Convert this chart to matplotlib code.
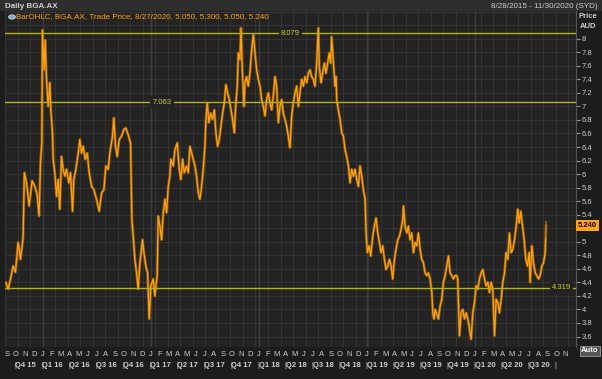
import matplotlib
matplotlib.use("Agg")
import matplotlib.pyplot as plt
import numpy as np

plt.rcParams['font.family'] = ['Liberation Sans', 'DejaVu Sans']

# months since 1 Sep 2015 (daily BGA.AX trade price, sampled roughly weekly)
months = [-0.11, 0.15, 0.41, 0.70, 0.96, 1.26, 1.52, 1.81, 1.95, 2.19, 2.48, 2.81, 3.11, 3.37, 3.59,
          3.74, 3.89, 3.96, 4.15, 4.26, 4.41, 4.59, 4.78, 4.89, 5.07, 5.15, 5.33, 5.52, 5.70, 5.89,
          6.07, 6.26, 6.44, 6.63, 6.89, 7.07, 7.30, 7.44, 7.67, 7.93, 8.11, 8.30, 8.48, 8.70, 8.93,
          9.15, 9.41, 9.67, 9.96, 10.26, 10.52, 10.78, 11.00, 11.26, 11.44, 11.74, 11.89, 12.07, 12.26,
          12.48, 12.74, 13.00, 13.22, 13.48, 13.74, 13.89, 14.04, 14.22, 14.41, 14.59, 14.78, 15.07,
          15.22, 15.44, 15.63, 15.81, 16.00, 16.26, 16.44, 16.70, 16.74, 16.81, 17.00, 17.19, 17.37,
          17.56, 17.74, 17.93, 18.11, 18.22, 18.48, 18.67, 18.93, 19.15, 19.33, 19.52, 19.70, 19.96,
          20.15, 20.33, 20.52, 20.70, 20.89, 21.07, 21.26, 21.44, 21.63, 21.81, 22.00, 22.11, 22.26,
          22.44, 22.63, 22.85, 23.04, 23.22, 23.41, 23.59, 23.78, 23.96, 24.15, 24.33, 24.52, 24.70,
          24.89, 25.07, 25.26, 25.41, 25.59, 25.70, 25.89, 26.00, 26.15, 26.33, 26.44, 26.63, 26.81,
          27.00, 27.19, 27.37, 27.56, 27.74, 27.93, 28.11, 28.30, 28.48, 28.67, 28.85, 29.04, 29.22,
          29.41, 29.59, 29.78, 29.96, 30.15, 30.33, 30.52, 30.70, 30.89, 31.07, 31.26, 31.44, 31.63,
          31.81, 32.00, 32.19, 32.37, 32.56, 32.74, 32.93, 33.11, 33.30, 33.48, 33.67, 33.85, 34.04,
          34.22, 34.41, 34.59, 34.70, 34.89, 35.07, 35.26, 35.44, 35.63, 35.81, 35.96, 36.07, 36.19,
          36.33, 36.44, 36.56, 36.63, 36.81, 37.00, 37.19, 37.37, 37.56, 37.74, 37.93, 38.11, 38.30,
          38.48, 38.67, 38.85, 39.04, 39.22, 39.41, 39.59, 39.78, 39.89, 40.04, 40.22, 40.41, 40.63,
          40.81, 41.00, 41.19, 41.37, 41.56, 41.74, 41.93, 42.11, 42.30, 42.48, 42.67, 42.85, 43.04,
          43.22, 43.41, 43.59, 43.78, 43.96, 44.04, 44.22, 44.41, 44.59, 44.78, 44.96, 45.15, 45.33,
          45.52, 45.70, 45.89, 46.07, 46.26, 46.44, 46.63, 46.81, 47.00, 47.19, 47.30, 47.44, 47.56,
          47.93, 48.11, 48.30, 48.48, 48.67, 48.85, 49.04, 49.22, 49.41, 49.59, 49.78, 49.96, 50.07,
          50.15, 50.26, 50.44, 50.63, 50.81, 51.00, 51.19, 51.37, 51.56, 51.74, 51.93, 52.11, 52.30,
          52.48, 52.67, 52.85, 53.04, 53.22, 53.41, 53.59, 53.78, 53.96, 54.15, 54.33, 54.52, 54.70,
          54.89, 55.07, 55.26, 55.44, 55.63, 55.81, 56.00, 56.19, 56.37, 56.56, 56.74, 56.89, 57.07,
          57.26, 57.44, 57.63, 57.81, 58.00, 58.11, 58.30, 58.48, 58.67, 58.85, 59.04, 59.22, 59.41,
          59.59, 59.78, 59.87]
price = [4.40, 4.30, 4.45, 4.64, 4.55, 4.99, 4.74, 5.06, 6.02, 5.87, 5.53, 5.90, 5.82, 5.70, 5.38,
         6.17, 6.46, 8.13, 7.54, 7.98, 7.40, 7.00, 7.35, 6.95, 6.61, 6.22, 6.02, 5.67, 5.92, 5.48,
         6.26, 6.07, 5.97, 6.07, 5.87, 6.02, 5.45, 5.92, 6.07, 6.31, 6.51, 6.31, 6.41, 6.22, 6.31,
         6.02, 5.82, 5.77, 5.63, 5.45, 5.72, 5.77, 6.12, 6.07, 6.31, 6.56, 6.83, 6.41, 6.26,
         6.51, 6.56, 6.66, 6.68, 6.58, 6.46, 5.33, 5.08, 4.74, 4.54, 4.30, 4.69, 5.03,
         4.84, 4.64, 4.54, 3.86, 4.35, 4.45, 4.20, 4.50, 4.84, 5.38, 5.23, 5.03, 5.43,
         5.63, 5.43, 5.82, 5.97, 6.22, 6.12, 6.36, 6.46, 6.07, 5.92, 6.22, 6.02, 6.12,
         6.02, 6.41, 6.31, 6.22, 6.12, 5.97, 5.72, 5.63, 5.82, 6.07, 6.41, 6.81, 7.05,
         6.76, 6.90, 6.81, 6.95, 6.61, 6.41, 6.51, 6.71, 6.90, 7.05, 7.32, 7.20, 7.10,
         6.95, 6.81, 6.61, 7.00, 7.30, 7.79, 7.69, 8.16, 7.54, 7.00, 7.35, 7.44, 7.30,
         7.49, 7.84, 8.06, 7.79, 7.54, 7.40, 7.30, 7.10, 7.00, 6.86, 7.10, 7.20, 7.05,
         6.95, 7.15, 7.44, 7.30, 6.76, 7.00, 7.10, 6.90, 6.81, 6.71, 6.56, 6.39, 6.86,
         7.05, 7.20, 7.30, 7.00, 7.20, 7.40, 7.30, 7.44, 7.35, 7.49, 7.54, 7.44, 7.40,
         7.30, 7.64, 8.16, 7.59, 7.35, 7.49, 7.64, 7.49, 7.64, 7.79, 7.64, 8.03, 7.79,
         7.49, 7.30, 7.44, 7.10, 6.95, 6.81, 6.61, 6.56, 6.36, 6.26, 6.12, 5.87, 6.07,
         5.97, 6.07, 5.92, 5.82, 6.12, 5.97, 5.77, 5.63, 5.13, 4.84, 4.94, 4.79, 5.08,
         5.23, 5.35, 5.13, 4.99, 4.84, 4.94, 4.74, 4.59, 4.64, 4.74, 4.64, 4.45, 4.74,
         4.89, 5.03, 5.08, 5.18, 5.33, 5.53, 5.23, 5.13, 5.23, 5.03, 5.13, 4.84, 4.99,
         4.94, 5.13, 4.89, 4.74, 4.69, 4.54, 4.50, 4.54, 4.45, 4.25, 3.95, 3.86, 4.00,
         3.86, 4.05, 4.15, 4.40, 4.50, 4.64, 4.79, 4.54, 4.50, 4.45, 4.50, 4.50, 4.45,
         4.10, 3.61, 3.95, 4.00, 3.86, 3.95, 3.86, 3.71, 3.56, 3.95, 4.10, 4.35, 4.30,
         4.45, 4.54, 4.59, 4.45, 4.35, 4.40, 4.25, 4.40, 4.30, 3.61, 4.15, 4.10, 3.95,
         4.15, 4.40, 4.54, 4.84, 4.74, 5.13, 4.84, 4.89, 5.03, 5.23, 5.48, 5.28, 5.45,
         5.23, 5.03, 4.74, 4.64, 4.84, 4.40, 4.94, 4.69, 4.54, 4.50, 4.45, 4.50, 4.64,
         4.69, 4.84, 5.24]

last_bar = [5.05, 5.30]
ref_levels = [8.079, 7.063, 4.319]
ref_label_x = [31.5, 17.2, 61.6]
month_letters = ["S", "O", "N", "D", "J", "F", "M", "A", "M", "J", "J", "A"]
quarters = ["Q4 15", "Q1 16", "Q2 16", "Q3 16", "Q4 16", "Q1 17", "Q2 17", "Q3 17", "Q4 17",
            "Q1 18", "Q2 18", "Q3 18", "Q4 18", "Q1 19", "Q2 19", "Q3 19", "Q4 19", "Q1 20",
            "Q2 20", "Q3 20"]

W, H = 602, 379
BG = "#232323"
FIG_BG = "#1c1c1c"
TXT = "#cfcfcf"
ORANGE = "#ffa214"
REF = "#b4b414"

fig = plt.figure(figsize=(W / 100, H / 100), dpi=100, facecolor=FIG_BG)
ax = fig.add_axes([5 / W, 1 - 347 / H, 571 / W, 336 / H], facecolor=BG)

xmin, xmax = -0.2, 63.2
ymin, ymax = 3.445, 8.41
ax.set_xlim(xmin, xmax)
ax.set_ylim(ymin, ymax)

# grid
for y in np.arange(3.6, 8.41, 0.2):
    ax.axhline(y, color="#343434", lw=0.8, zorder=0)
gx = 4.0 - 1.389 * 3
while gx < xmax:
    ax.axvline(gx, color="#343434", lw=0.8, zorder=0)
    gx += 1.389
for yr_start in [4, 16, 28, 40, 52]:
    ax.axvline(yr_start, color="#3d3d3d", lw=1.0, zorder=0)

# price trace
ax.plot(months, price, color="#8a5a12", lw=2.0, zorder=2)
ax.plot(months, price, color=ORANGE, lw=0.9, zorder=3)
ax.vlines(months[-1], last_bar[0], last_bar[1], color="#a06a14", lw=1.2, zorder=3)

# reference lines
for lvl, lx in zip(ref_levels, ref_label_x):
    ax.axhline(lvl, color=REF, lw=1.0, zorder=4)
    ax.text(lx, lvl, f"{lvl:.3f}", color="#d2d22a", fontsize=5.5, ha="center", va="center",
            zorder=5, bbox=dict(boxstyle="square,pad=0.3", fc=BG, ec="none"))

# y axis on the right
ax.yaxis.tick_right()
yt = np.round(np.arange(3.6, 8.01, 0.2), 1)
ax.set_yticks(yt)
ax.set_yticklabels([f"{v:g}" for v in yt])
ax.tick_params(axis="y", colors="#9a9a9a", labelcolor=TXT, labelsize=5.5, length=3, pad=1)
ax.set_xticks([])
for side in ["top", "left", "bottom"]:
    ax.spines[side].set_visible(False)
ax.spines["right"].set_color("#555555")

# current price box (drawn over the 5.2 tick label, as in the terminal)
fig.text(578 / W, ax.transAxes.transform((0, (5.24 - ymin) / (ymax - ymin)))[1] / H,
         "5.240", fontsize=5.5, color="black", ha="left", va="center", fontweight="bold",
         zorder=10, bbox=dict(boxstyle="square,pad=0.2", fc=ORANGE, ec="none"))

# x axis labels: months and quarters
xt = ax.get_xaxis_transform()
for k in range(63):
    ax.text(k, -0.012, month_letters[k % 12], transform=xt,
            fontsize=5.5, color=TXT, ha="center", va="top")
for i, q in enumerate(quarters):
    mid = 2 + 3 * i
    ax.text(mid + 0.1, -0.045, q, transform=xt, fontsize=5.5,
            color=TXT, ha="center", va="top", fontweight="bold")
    ax.text(1 + 3 * i - 0.1, -0.045, "|", transform=xt, fontsize=5.5,
            color=TXT, ha="center", va="top")
ax.text(60.9, -0.045, "|", transform=xt, fontsize=5.5, color=TXT, ha="center", va="top")

# header
fig.patches.append(plt.Rectangle((0, 1 - 11 / H), 1, 11 / H, transform=fig.transFigure,
                                 fc="#2e2e2e", ec="none"))
fig.text(5 / W, 1 - 6 / H, "Daily BGA.AX", fontsize=5.8, color=TXT, fontweight="bold", va="center")
fig.text(598 / W, 1 - 6 / H, "8/28/2015 - 11/30/2020 (SYD)", fontsize=5.8, color=TXT,
         ha="right", va="center")
fig.text(16 / W, 1 - 17 / H, "BarOHLC, BGA.AX, Trade Price, 8/27/2020, 5.050, 5.300, 5.050, 5.240",
         fontsize=5.8, color=ORANGE, va="center")
fig.patches.append(plt.Circle((12 / W, 1 - 17 / H), 3.5 / W, transform=fig.transFigure,
                              fc="#7fa8d8", ec="#dddddd", lw=0.5))
fig.text(588 / W, 1 - 17 / H, "Price", fontsize=5.5, color=TXT, fontweight="bold",
         ha="center", va="center")
fig.text(588 / W, 1 - 26 / H, "AUD", fontsize=5.5, color=TXT, fontweight="bold",
         ha="center", va="center")
fig.text(590 / W, 1 - 351 / H, "Auto", fontsize=5.5, color="white", fontweight="bold",
         ha="center", va="center",
         bbox=dict(boxstyle="square,pad=0.2", fc="#555555", ec="#999999", lw=0.6))

fig.savefig("out.png", dpi=100, facecolor=FIG_BG)
